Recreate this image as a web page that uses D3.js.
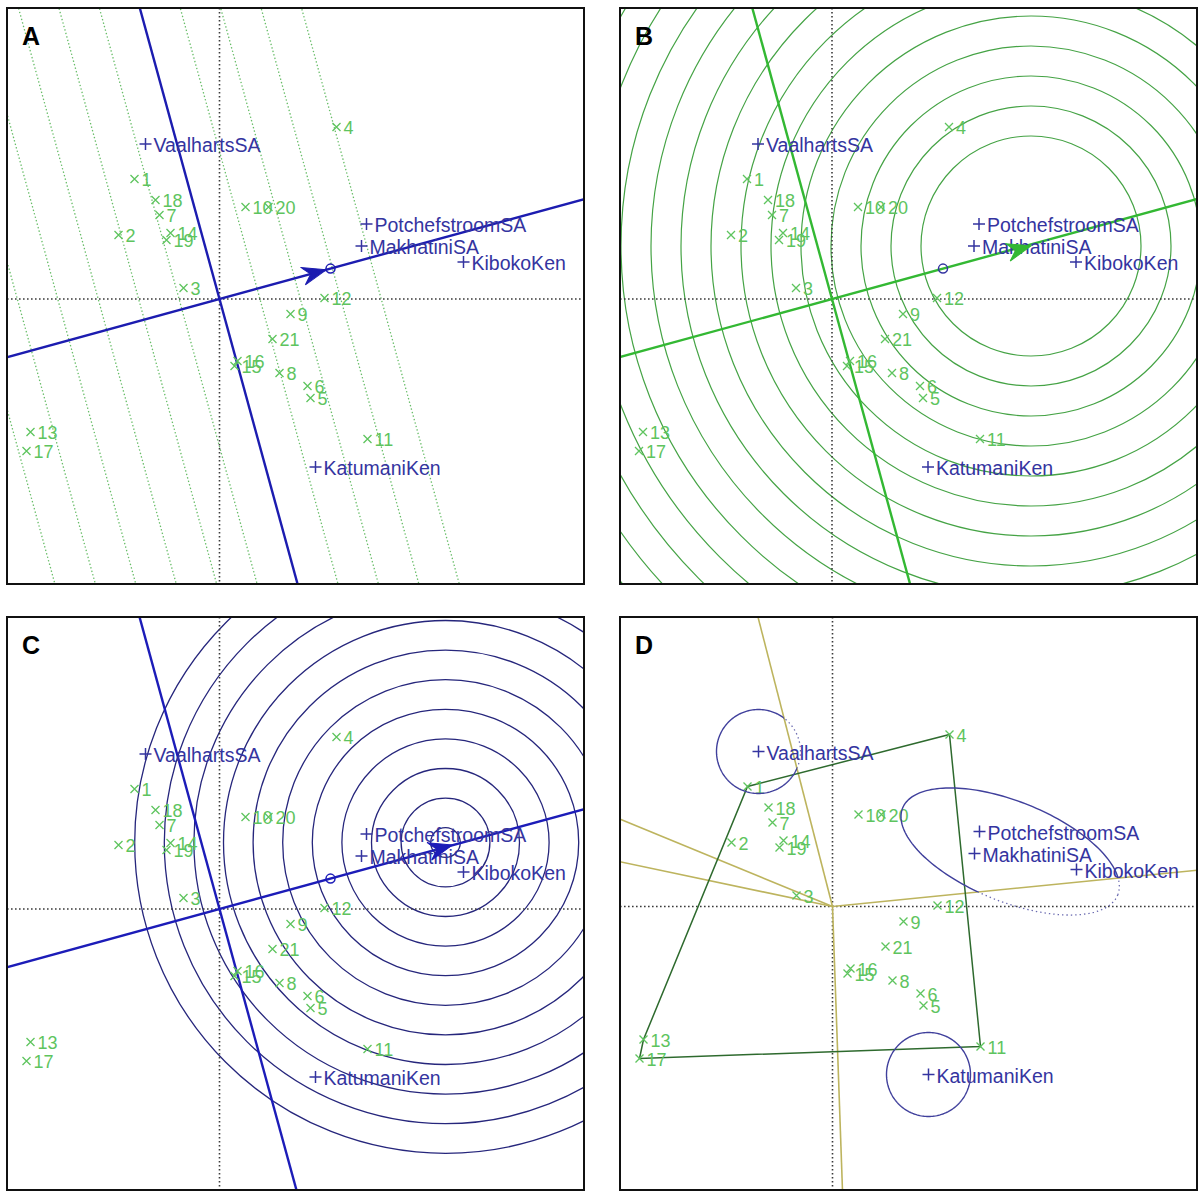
<!DOCTYPE html>
<html><head><meta charset="utf-8">
<script src="https://cdn.jsdelivr.net/npm/d3@7"></script>
<style>body{margin:0;background:#fff}svg{display:block}</style>
</head><body>
<svg id="fig" width="1198" height="1191"></svg>
<script>
// GGE biplot coordinates (PC1, PC2)
const genotypes = ["1","2","3","4","5","6","7","8","9","10","11","12","13","14","15","16","17","18","19","20","21"];
const genoX = [-0.85,-1.01,-0.36,1.17,0.91,0.88,-0.60,0.60,0.71,0.26,1.48,1.05,-1.89,-0.49,0.15,0.18,-1.93,-0.64,-0.53,0.49,0.53];
const genoY = [1.20,0.64,0.11,1.72,-0.99,-0.87,0.84,-0.74,-0.15,0.92,-1.40,0.01,-1.33,0.66,-0.67,-0.62,-1.52,0.99,0.59,0.92,-0.40];

const environments = ["VaalhartsSA","PotchefstroomSA","MakhatiniSA","KibokoKen","KatumaniKen"];
const envX = [-0.74,1.47,1.42,2.44,0.96];
const envY = [1.55,0.75,0.53,0.37,-1.68];

const panelLetters = ["A","B","C","D"];

// positions along the average-environment axis for the ranking guide lines (panel A)
const projectionTicks = [-2.34,-1.95,-1.56,-1.17,-0.78,-0.39,0,0.39,0.78,1.17,1.56];

// ideal genotype (panel B) and ideal environment (panel C) with their ring radii
const idealGenotype = [1.99, 0.53];
const genotypeRings = [1.10,1.40,1.70,2.00,2.30,2.60,2.90,3.20,3.50,3.80,4.10,4.40,4.70,5.00,5.30];
const idealEnvironment = [2.26, 0.665];
const idealEnvArrowTip = [2.33, 0.64];
const environmentRings = [0.148,0.444,0.74,1.036,1.332,1.628,1.924,2.22,2.516,2.812,3.108];

// mega-environment outlines (panel D)
const singleEnvRadius = 0.42;
const clusterEnvs = ["PotchefstroomSA","MakhatiniSA","KibokoKen"];
const clusterSemiAxes = [1.16, 0.50];
const clusterAngleDeg = -22;

// ---------------------------------------------------------------
const unitPx = 100;
const panels = [
  {left:7,   top:8,   width:577, height:576, ox:219.5, oy:299},
  {left:620, top:8,   width:577, height:576, ox:832,   oy:299},
  {left:7,   top:617, width:577, height:573, ox:219.5, oy:909},
  {left:620, top:617, width:577, height:573, ox:832.5, oy:906.5}
];

const GREEN_TXT = "#5ec45e", BLUE_TXT = "#3434a0";
const svg = d3.select("#fig");
const geno = genotypes.map((g,i)=>({name:g, x:genoX[i], y:genoY[i]}));
const envs = environments.map((e,i)=>({name:e, x:envX[i], y:envY[i]}));

// average environment coordinate and axis directions
const avgEnv = [d3.mean(envX), d3.mean(envY)];
const aLen = Math.hypot(avgEnv[0], avgEnv[1]);
const dir = [avgEnv[0]/aLen, avgEnv[1]/aLen];
const perp = [-dir[1], dir[0]];

function setup(i){
  const p = panels[i];
  const x = d3.scaleLinear().domain([(p.left-p.ox)/unitPx, (p.left+p.width-p.ox)/unitPx]).range([p.left, p.left+p.width]);
  const y = d3.scaleLinear().domain([(p.oy-p.top)/unitPx, (p.oy-p.top-p.height)/unitPx]).range([p.top, p.top+p.height]);
  svg.append("clipPath").attr("id","clip"+i).append("rect")
    .attr("x",p.left).attr("y",p.top).attr("width",p.width).attr("height",p.height);
  const g = svg.append("g").attr("clip-path",`url(#clip${i})`);
  const line = d3.line().x(d=>x(d[0])).y(d=>y(d[1]));
  return {p, x, y, g, line};
}

function seg(P, a, b, stroke, width, dash){
  return P.g.append("path").attr("d", P.line([a,b])).attr("fill","none")
    .attr("stroke",stroke).attr("stroke-width",width).attr("stroke-dasharray",dash||null);
}

function axesDotted(P){
  seg(P,[P.x.domain()[0],0],[P.x.domain()[1],0],"#3a3a3a",1.6,"1.6,2.4");
  seg(P,[0,P.y.domain()[0]],[0,P.y.domain()[1]],"#3a3a3a",1.6,"1.6,2.4");
}

function aeaLines(P, color){
  seg(P,[-dir[0]*10,-dir[1]*10],[dir[0]*10,dir[1]*10],color,2.4);
  seg(P,[-perp[0]*10,-perp[1]*10],[perp[0]*10,perp[1]*10],color,2.4);
}

function arrowHead(P, tip, color){
  const ang = Math.atan2(-dir[1], dir[0]) * 180/Math.PI;
  P.g.append("path").attr("d","M0,0 L-24,-9 L-16,0 L-24,9 Z")
    .attr("fill",color).attr("stroke",color).attr("stroke-width",1)
    .attr("transform",`translate(${P.x(tip[0])},${P.y(tip[1])}) rotate(${ang})`);
}

function avgMarker(P, color){
  P.g.append("circle").attr("cx",P.x(avgEnv[0])).attr("cy",P.y(avgEnv[1])).attr("r",4.5)
    .attr("fill","none").attr("stroke",color).attr("stroke-width",1.5);
}

function points(P){
  const gg = P.g.append("g");
  geno.forEach(d=>{
    const cx = P.x(d.x), cy = P.y(d.y);
    gg.append("path").attr("d",`M${cx-4},${cy-4}L${cx+4},${cy+4}M${cx-4},${cy+4}L${cx+4},${cy-4}`)
      .attr("stroke",GREEN_TXT).attr("stroke-width",1.3);
    gg.append("text").attr("x",cx+7).attr("y",cy+1).attr("dominant-baseline","central")
      .attr("font-family","Liberation Sans, Arial, sans-serif").attr("font-size",18)
      .attr("fill",GREEN_TXT).text(d.name);
  });
  envs.forEach(d=>{
    const cx = P.x(d.x), cy = P.y(d.y);
    gg.append("path").attr("d",`M${cx-6},${cy}L${cx+6},${cy}M${cx},${cy-6}L${cx},${cy+6}`)
      .attr("stroke",BLUE_TXT).attr("stroke-width",1.5);
    gg.append("text").attr("x",cx+8).attr("y",cy+1).attr("dominant-baseline","central")
      .attr("font-family","Liberation Sans, Arial, sans-serif").attr("font-size",19.5)
      .attr("fill",BLUE_TXT).text(d.name);
  });
}

function frame(P, letter){
  const p = P.p;
  svg.append("text").attr("x",p.left+15).attr("y",p.top+37)
    .attr("font-family","Liberation Sans, Arial, sans-serif").attr("font-weight","bold")
    .attr("font-size",25).attr("fill","#000").text(letter);
  svg.append("rect").attr("x",p.left).attr("y",p.top).attr("width",p.width).attr("height",p.height)
    .attr("fill","none").attr("stroke","#111").attr("stroke-width",2);
}

function rings(P, center, radii, color, width){
  radii.forEach(r=>{
    P.g.append("circle").attr("cx",P.x(center[0])).attr("cy",P.y(center[1]))
      .attr("r",P.x(r)-P.x(0)).attr("fill","none").attr("stroke",color).attr("stroke-width",width);
  });
}

// ---------- Panel A: ranking environments along the average-environment axis
{
  const P = setup(0);
  projectionTicks.forEach(t=>{
    const c = [dir[0]*t, dir[1]*t];
    seg(P,[c[0]-perp[0]*10,c[1]-perp[1]*10],[c[0]+perp[0]*10,c[1]+perp[1]*10],"#68bd68",1.3,"1.4,2.2");
  });
  axesDotted(P);
  aeaLines(P,"#1c1cb0");
  points(P);
  avgMarker(P,"#1c1cb0");
  const tip = [avgEnv[0]-dir[0]*0.045, avgEnv[1]-dir[1]*0.045];
  arrowHead(P, tip, "#1c1cb0");
  frame(P, panelLetters[0]);
}

// ---------- Panel B: ideal genotype
{
  const P = setup(1);
  rings(P, idealGenotype, genotypeRings, "#45a345", 1.2);
  axesDotted(P);
  aeaLines(P,"#33b833");
  points(P);
  avgMarker(P,"#3434a0");
  arrowHead(P, idealGenotype, "#33b833");
  frame(P, panelLetters[1]);
}

// ---------- Panel C: ideal environment
{
  const P = setup(2);
  rings(P, idealEnvironment, environmentRings, "#26267c", 1.3);
  axesDotted(P);
  aeaLines(P,"#1c1cb8");
  points(P);
  avgMarker(P,"#1c1cb8");
  arrowHead(P, idealEnvArrowTip, "#1c1cb8");
  frame(P, panelLetters[2]);
}

// ---------- Panel D: which-won-where polygon and mega-environments
{
  const P = setup(3);
  axesDotted(P);
  const hull = d3.polygonHull(geno.map(d=>[d.x,d.y]));
  // sector rays from the origin, perpendicular to each polygon side
  const rays = [];
  for(let k=0;k<hull.length;k++){
    const a = hull[k], b = hull[(k+1)%hull.length];
    const e = [b[0]-a[0], b[1]-a[1]];
    let n = [e[1], -e[0]];
    const nl = Math.hypot(n[0],n[1]); n = [n[0]/nl, n[1]/nl];
    if(n[0]*a[0]+n[1]*a[1] < 0) n = [-n[0],-n[1]];
    rays.push({edge:[a,b], n});
    seg(P,[0,0],[n[0]*10,n[1]*10],"#bdb45e",1.6);
  }
  P.g.append("path").attr("d", P.line(hull)+"Z").attr("fill","none")
    .attr("stroke","#2e6a2e").attr("stroke-width",1.5);
  points(P);

  // outline split by a sector ray: solid on the centre's side, dotted beyond
  let clipN = 0;
  function splitOutline(center, a, b, angDeg){
    const th = angDeg*Math.PI/180;
    const pts = d3.range(0,361,2).map(t=>{
      const u = t*Math.PI/180;
      const px = a*Math.cos(u), py = b*Math.sin(u);
      return [center[0]+px*Math.cos(th)-py*Math.sin(th), center[1]+px*Math.sin(th)+py*Math.cos(th)];
    });
    // the ray whose line passes nearest the outline
    let best=null, bestD=Infinity;
    rays.forEach(r=>{
      const u=r.n; const dd = pts.reduce((m,q)=>Math.min(m, Math.abs(u[0]*q[1]-u[1]*q[0]) + (u[0]*q[0]+u[1]*q[1]<0?99:0)),Infinity);
      if(dd<bestD){bestD=dd;best=r;}
    });
    const u = best.n, nrm = [-u[1], u[0]];
    const side = Math.sign(u[0]*center[1]-u[1]*center[0]) || 1;
    const half = s=>[[-u[0]*20,-u[1]*20],[u[0]*20,u[1]*20],
      [u[0]*20+nrm[0]*20*s,u[1]*20+nrm[1]*20*s],[-u[0]*20+nrm[0]*20*s,-u[1]*20+nrm[1]*20*s]];
    const id1="hp"+(clipN++), id2="hp"+(clipN++);
    svg.append("clipPath").attr("id",id1).append("path").attr("d",P.line(half(side))+"Z");
    svg.append("clipPath").attr("id",id2).append("path").attr("d",P.line(half(-side))+"Z");
    P.g.append("g").attr("clip-path",`url(#${id1})`).append("path").attr("d",P.line(pts))
      .attr("fill","none").attr("stroke","#40409c").attr("stroke-width",1.4);
    P.g.append("g").attr("clip-path",`url(#${id2})`).append("path").attr("d",P.line(pts))
      .attr("fill","none").attr("stroke","#6a6ab0").attr("stroke-width",1.3).attr("stroke-dasharray","1.4,3");
  }
  const vaal = envs.find(d=>d.name==="VaalhartsSA");
  const katu = envs.find(d=>d.name==="KatumaniKen");
  splitOutline([vaal.x,vaal.y], singleEnvRadius, singleEnvRadius, 0);
  splitOutline([katu.x,katu.y], singleEnvRadius, singleEnvRadius, 0);
  const cl = envs.filter(d=>clusterEnvs.includes(d.name));
  splitOutline([d3.mean(cl,d=>d.x), d3.mean(cl,d=>d.y)], clusterSemiAxes[0], clusterSemiAxes[1], clusterAngleDeg);
  frame(P, panelLetters[3]);
}
</script>
</body></html>
